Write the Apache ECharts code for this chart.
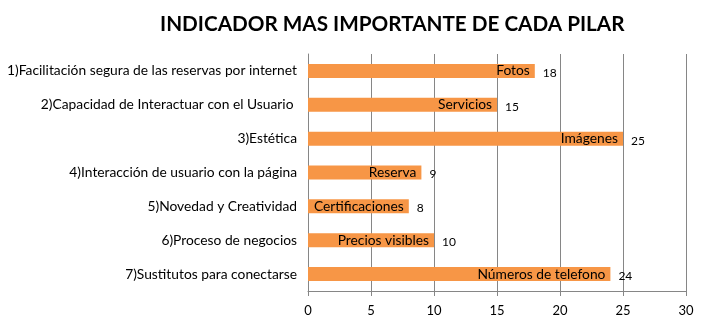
<!DOCTYPE html>
<html>
<head>
<meta charset="utf-8">
<script src="https://cdn.jsdelivr.net/npm/echarts@6/dist/echarts.min.js"></script>
<style>html,body{margin:0;padding:0;background:#fff;}#c{width:706px;height:323px;}</style>
</head>
<body>
<div id="c"></div>
<script>
var categories = [
  "1)Facilitación segura de las reservas por internet",
  "2)Capacidad de Interactuar con el Usuario ",
  "3)Estética",
  "4)Interacción de usuario con la página",
  "5)Novedad y Creatividad",
  "6)Proceso de negocios",
  "7)Sustitutos para conectarse"
];
var indicators = ["Fotos", "Servicios", "Imágenes", "Reserva", "Certificaciones", "Precios visibles", "Números de telefono"];
var values = [18, 15, 25, 9, 8, 10, 24];
var xTicks = [0, 5, 10, 15, 20, 25, 30];

var font = "Lato, 'Open Sans', sans-serif";
var chart = echarts.init(document.getElementById('c'), null, {renderer: 'canvas'});
chart.setOption({
  animation: false,
  title: {
    text: "INDICADOR MAS IMPORTANTE DE CADA PILAR",
    left: 155, top: 9,
    textStyle: {fontFamily: font, fontWeight: 'bold', fontSize: 20.7, color: '#000'}
  },
  grid: {left: 308, right: 20, top: 54, bottom: 32, containLabel: false},
  xAxis: {
    type: 'value', min: xTicks[0], max: xTicks[xTicks.length - 1], interval: 5,
    axisLine: {show: true, lineStyle: {color: '#868686'}},
    axisTick: {show: true, length: 5, lineStyle: {color: '#868686'}},
    splitLine: {show: true, lineStyle: {color: '#868686'}},
    axisLabel: {fontFamily: font, fontSize: 13, color: '#000', margin: 13}
  },
  yAxis: {
    type: 'category', inverse: true, data: categories,
    axisLine: {show: true, lineStyle: {color: '#868686'}},
    axisTick: {show: false},
    axisLabel: {fontFamily: font, fontSize: 13.8, color: '#000', margin: 11}
  },
  series: [
    {
      type: 'bar', data: values, barWidth: 14,
      itemStyle: {color: '#F79646'},
      label: {show: true, position: 'right', distance: 8, offset: [0, 2], fontFamily: font, fontSize: 12, color: '#000'}
    },
    {
      type: 'bar', barGap: '-100%', barWidth: 14,
      data: values.map(function (v, i) { return {value: v, name: indicators[i]}; }),
      itemStyle: {color: 'rgba(0,0,0,0)'},
      label: {show: true, position: 'insideRight', distance: 5, fontFamily: font, fontSize: 13.8, color: '#000',
        formatter: function (p) { return indicators[p.dataIndex]; }}
    }
  ]
});
</script>
</body>
</html>
